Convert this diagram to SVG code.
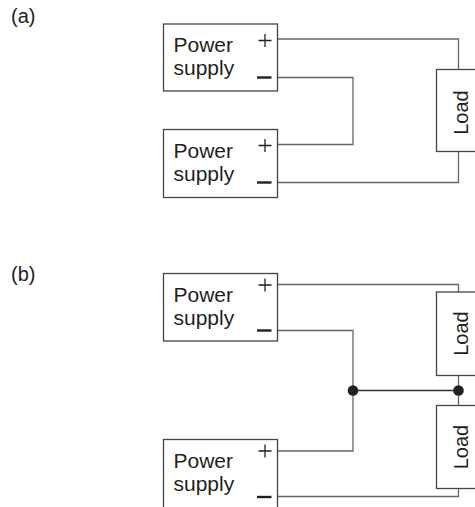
<svg xmlns="http://www.w3.org/2000/svg" width="475" height="507" viewBox="0 0 475 507">
<style>
text{font-family:"Liberation Sans",Arial,sans-serif;font-size:20px;fill:#231f20}
.ps{font-size:21px}
.box{fill:#fff;stroke:#444;stroke-width:1.3}
.w{fill:none;stroke:#666;stroke-width:1.3}
.pm{stroke:#231f20;fill:none}
.dot{fill:#231f20}
</style>
<rect width="475" height="507" fill="#fff"/>
<text x="11" y="23">(a)</text>
<text x="11" y="281">(b)</text>
<g id="connectors">
<polyline class="w" points="277.5,39 458.5,39 458.5,69.5"/>
<polyline class="w" points="277.5,77.5 353,77.5 353,144.5 277.5,144.5"/>
<polyline class="w" points="277.5,182.5 458.5,182.5 458.5,151.5"/>
<polyline class="w" points="277.5,284.5 458.5,284.5 458.5,292"/>
<polyline class="w" points="277.5,330.5 353,330.5 353,451 277.5,451"/>
<line class="w" x1="353" y1="390.5" x2="458.5" y2="390.5" style="stroke:#333"/>
<line class="w" x1="458.5" y1="375.5" x2="458.5" y2="405.5"/>
<polyline class="w" points="277.5,496.5 458.5,496.5 458.5,488.5"/>
<circle class="dot" cx="353" cy="390.5" r="5.3"/>
<circle class="dot" cx="458.5" cy="390.5" r="5.3"/>
</g>
<g id="ps1">
<rect class="box" x="163.5" y="24" width="114" height="67"/>
<text class="ps" x="173.5" y="52">Power</text>
<text class="ps" x="173.5" y="75">supply</text>
<path class="pm" d="M258.5,40.5h13M265,34v13" stroke-width="1.3"/>
<path class="pm" d="M257,77.5h14.5" stroke-width="2.4"/>
</g>
<g id="ps2">
<rect class="box" x="163.5" y="129.5" width="114" height="68"/>
<text class="ps" x="173.5" y="158">Power</text>
<text class="ps" x="173.5" y="181">supply</text>
<path class="pm" d="M258.5,145.5h13M265,139v13" stroke-width="1.3"/>
<path class="pm" d="M257,182.5h14.5" stroke-width="2.4"/>
</g>
<g id="load-a">
<rect class="box" x="436.5" y="69.5" width="46" height="82"/>
<text transform="translate(467.5,112.5) rotate(-90)" text-anchor="middle">Load</text>
</g>
<g id="ps3">
<rect class="box" x="163.5" y="273.5" width="114" height="67.5"/>
<text class="ps" x="173.5" y="302">Power</text>
<text class="ps" x="173.5" y="325">supply</text>
<path class="pm" d="M258.5,285h13M265,278.5v13" stroke-width="1.3"/>
<path class="pm" d="M257,330.5h14.5" stroke-width="2.4"/>
</g>
<g id="ps4">
<rect class="box" x="163.5" y="439.5" width="114" height="80"/>
<text class="ps" x="173.5" y="468">Power</text>
<text class="ps" x="173.5" y="491">supply</text>
<path class="pm" d="M258.5,451h13M265,444.5v13" stroke-width="1.3"/>
<path class="pm" d="M257,497h14.5" stroke-width="2.4"/>
</g>
<g id="load-b1">
<rect class="box" x="436.5" y="292" width="46" height="83.5"/>
<text transform="translate(467.5,333.5) rotate(-90)" text-anchor="middle">Load</text>
</g>
<g id="load-b2">
<rect class="box" x="436.5" y="405.5" width="46" height="83"/>
<text transform="translate(467.5,447) rotate(-90)" text-anchor="middle">Load</text>
</g>
</svg>
